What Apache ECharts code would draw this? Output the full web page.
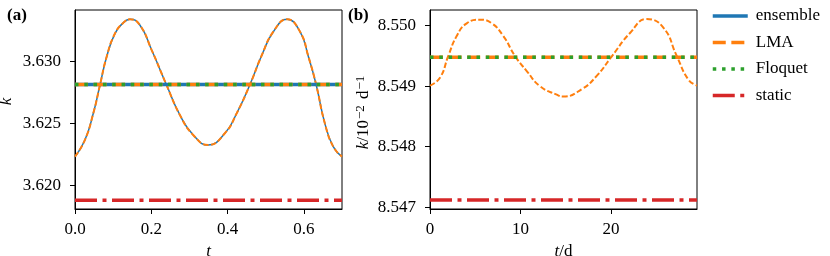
<!DOCTYPE html>
<html>
<head>
<meta charset="utf-8">
<script src="https://cdn.jsdelivr.net/npm/echarts@6/dist/echarts.min.js"></script>
<style>
html,body{margin:0;padding:0;background:#fff;}
#chart{width:830px;height:256px;}
</style>
</head>
<body>
<div id="chart"></div>
<script>
// ---- Data ----
// Panel (a)
const tA = [0, 0.026, 0.048, 0.0655, 0.083, 0.105, 0.127, 0.144, 0.170, 0.201, 0.240, 0.275, 0.310, 0.349, 0.393, 0.424, 0.459, 0.490, 0.520, 0.556, 0.590, 0.612, 0.632, 0.655, 0.677, 0.700];
const kEnsembleA = [3.62234, 3.62369, 3.62584, 3.62812, 3.63040, 3.63229, 3.63315, 3.63342, 3.63296, 3.63094, 3.62812, 3.62570, 3.62409, 3.62328, 3.62423, 3.62584, 3.62818, 3.63054, 3.63242, 3.63342, 3.63242, 3.63040, 3.62818, 3.62503, 3.62315, 3.62234];
const kLmaA = [3.62234, 3.62369, 3.62584, 3.62812, 3.63040, 3.63229, 3.63315, 3.63342, 3.63296, 3.63094, 3.62812, 3.62570, 3.62409, 3.62328, 3.62423, 3.62584, 3.62818, 3.63054, 3.63242, 3.63342, 3.63242, 3.63040, 3.62818, 3.62503, 3.62315, 3.62234];
const spanA = [0, 0.7];
const meanEnsembleA = 3.62817;
const meanLmaA = 3.62817;
const floquetA = 3.62817;
const staticA = 3.61882;
const xTicksA = [0.0, 0.2, 0.4, 0.6];
const yTicksA = [3.620, 3.625, 3.630];
const xRangeA = [0, 0.7];
const yRangeA = [3.61812, 3.63417];

// Panel (b)
const tB = [0, 1.10, 2.02, 2.95, 4.06, 5.52, 6.82, 8.10, 9.39, 10.69, 12.15, 14.0, 14.73, 16.76, 18.42, 20.07, 22.1, 23.95, 25.78, 27.26, 28.54, 29.5];
const kLmaB = [8.54901, 8.54914, 8.54950, 8.54983, 8.55004, 8.55010, 8.55004, 8.54983, 8.54950, 8.54925, 8.54900, 8.54886, 8.54883, 8.54895, 8.54917, 8.54949, 8.54988, 8.55011, 8.54997, 8.54950, 8.54911, 8.54901];
const spanB = [0, 29.5];
const meanLmaB = 8.54948;
const floquetB = 8.54948;
const staticB = 8.54712;
const xTicksB = [0, 10, 20];
const yTicksB = [8.547, 8.548, 8.549, 8.550];
const xRangeB = [0, 29.5];
const yRangeB = [8.54697, 8.55026];

const legendNames = ['ensemble', 'LMA', 'Floquet', 'static'];

// ---- Styles ----
const FONT = '"Liberation Serif", "DejaVu Serif", serif';
const C = {blue:'#1f77b4', orange:'#ff7f0e', green:'#2ca02c', red:'#d62728'};
const thick = 3.5;
const styles = {
  ensemble: {color:C.blue, width:thick, type:'solid'},
  LMA: {color:C.orange, width:thick, type:[13, 5.6]},
  Floquet: {color:C.green, width:thick, type:[3.5, 5.8]},
  static: {color:C.red, width:thick, type:[22, 5.5, 4, 5.5]}
};

function pairs(xs, ys){ return xs.map((x,i)=>[x, ys[i]]); }
function hline(span, v){ return [[span[0], v], [span[1], v]]; }

function flatSeries(name, idx, span, v, z){
  return {
    name: name, type:'line', xAxisIndex:idx, yAxisIndex:idx,
    data: hline(span, v), symbol:'none', silent:true, z:z,
    lineStyle: Object.assign({}, styles[name]), itemStyle:{color:styles[name].color},
    animation:false
  };
}
function curveSeries(name, idx, xs, ys, color, width, type, z){
  return {
    name: name, type:'line', xAxisIndex:idx, yAxisIndex:idx,
    data: pairs(xs, ys), symbol:'none', smooth:0.5, silent:true, z:z,
    lineStyle:{color:color, width:width, type:type}, itemStyle:{color:color},
    animation:false
  };
}

const axisCommon = {
  axisLine:{show:true, onZero:false, lineStyle:{color:'#000', width:1}},
  axisTick:{show:true, inside:false, length:5, lineStyle:{color:'#000', width:1}},
  splitLine:{show:false}
};

function xAxis(idx, range, ticks, decimals, name, gap){
  return Object.assign({}, axisCommon, {
    type:'value', gridIndex:idx, min:range[0], max:range[1],
    name:name, nameLocation:'middle', nameGap:gap,
    nameTextStyle:{fontFamily:FONT, fontSize:17, color:'#000',
      rich:{i:{fontFamily:FONT, fontSize:17, fontStyle:'italic', color:'#000'}, r:{fontFamily:FONT, fontSize:17, color:'#000'}}},
    axisTick:Object.assign({}, axisCommon.axisTick, {customValues:ticks}),
    axisLabel:{customValues:ticks, margin:12, fontFamily:FONT, fontSize:17, color:'#000',
      formatter:(v)=>Number(v).toFixed(decimals)}
  });
}
function yAxis(idx, range, ticks, name, gap, rich, pad){
  return Object.assign({}, axisCommon, {
    type:'value', gridIndex:idx, min:range[0], max:range[1], scale:true,
    name:name, nameLocation:'middle', nameGap:gap, nameRotate:90,
    nameTextStyle:{fontFamily:FONT, fontSize:17, color:'#000', padding:pad, rich:rich},
    axisTick:Object.assign({}, axisCommon.axisTick, {customValues:ticks}),
    axisLabel:{customValues:ticks, margin:14, fontFamily:FONT, fontSize:17, color:'#000',
      formatter:(v)=>Number(v).toFixed(3)}
  });
}

const richY = {
  i:{fontFamily:FONT, fontSize:17, fontStyle:'italic', color:'#000', lineHeight:20},
  r:{fontFamily:FONT, fontSize:17, color:'#000', lineHeight:20},
  s:{fontFamily:FONT, fontSize:13, color:'#000', verticalAlign:'top', lineHeight:12, padding:[0,2,0,1]}
};

const option = {
  backgroundColor:'#fff',
  animation:false,
  title:[
    {text:'(a)', left:2, top:2, textStyle:{fontFamily:FONT, fontSize:17, fontWeight:'bold', color:'#000'}},
    {text:'(b)', left:343, top:2, textStyle:{fontFamily:FONT, fontSize:17, fontWeight:'bold', color:'#000'}}
  ],
  legend:{
    orient:'vertical', left:711, top:6, padding:0, itemWidth:35, itemHeight:14, itemGap:6.5,
    data: legendNames.map(n => ({name:n, lineStyle:{color:styles[n].color, width:thick, type:styles[n].type}})),
    itemStyle:{opacity:0},
    textStyle:{fontFamily:FONT, fontSize:17, color:'#000', lineHeight:20, padding:[0,0,0,3]},
    selectedMode:false
  },
  grid:[
    {left:75, top:10, width:267, height:199, show:true, borderColor:'#000', borderWidth:1, containLabel:false, outerBoundsMode:'none'},
    {left:430, top:10, width:267, height:199, show:true, borderColor:'#000', borderWidth:1, containLabel:false, outerBoundsMode:'none'}
  ],
  xAxis:[
    xAxis(0, xRangeA, xTicksA, 1, '{i|t}', 22),
    xAxis(1, xRangeB, xTicksB, 0, '{i|t}{r|/d}', 22)
  ],
  yAxis:[
    yAxis(0, yRangeA, yTicksA, '{i|k}', 58, richY, [0,0,0,16]),
    yAxis(1, yRangeB, yTicksB, '{i|k}{r|/10}{s|−2}{r| d}{s|−1}', 56, richY, [0,4,0,0])
  ],
  series:[
    flatSeries('ensemble', 0, spanA, meanEnsembleA, 3),
    flatSeries('LMA', 0, spanA, meanLmaA, 4),
    flatSeries('Floquet', 0, spanA, floquetA, 5),
    flatSeries('static', 0, spanA, staticA, 3),
    curveSeries('ensemble', 0, tA, kEnsembleA, C.blue, 1.5, 'solid', 2),
    curveSeries('LMA', 0, tA, kLmaA, C.orange, 2, [5.5, 2.4], 2),
    curveSeries('LMA', 1, tB, kLmaB, C.orange, 2, [5.5, 2.4], 2),
    flatSeries('LMA', 1, spanB, meanLmaB, 4),
    flatSeries('Floquet', 1, spanB, floquetB, 5),
    flatSeries('static', 1, spanB, staticB, 3)
  ]
};

const chart = echarts.init(document.getElementById('chart'), null, {renderer:'canvas'});
chart.setOption(option);
</script>
</body>
</html>
